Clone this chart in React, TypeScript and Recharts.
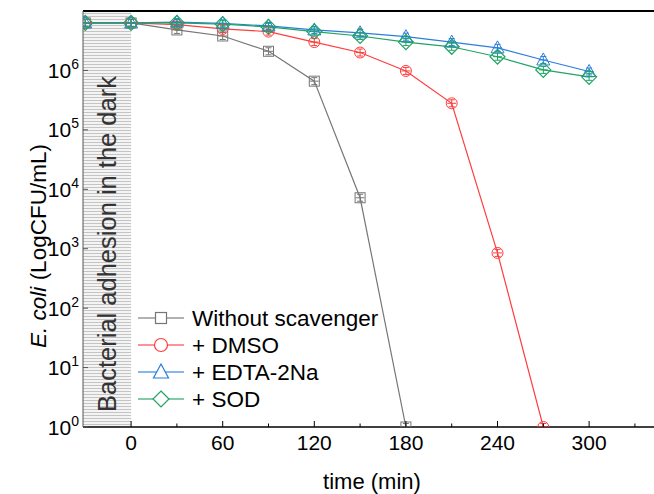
import React from 'react';
import { LineChart, Line, XAxis, YAxis, ReferenceArea, ReferenceLine, Legend } from 'recharts';

const times = [-30, 0, 30, 60, 90, 120, 150, 180, 210, 240, 270, 300];
const withoutScavenger = [6.3e6, 6.3e6, 4.8e6, 3.8e6, 2.1e6, 6.6e5, 7.2e3, 1, null, null, null, null];
const dmso = [6.3e6, 6.3e6, 5.9e6, 5.0e6, 4.5e6, 3.0e6, 2.0e6, 9.8e5, 2.8e5, 850, 1, null];
const edta = [6.3e6, 6.3e6, 6.5e6, 6.2e6, 5.6e6, 4.8e6, 4.3e6, 3.7e6, 3.0e6, 2.4e6, 1.5e6, 9.6e5];
const sod = [6.3e6, 6.3e6, 6.3e6, 6.0e6, 5.4e6, 4.5e6, 3.8e6, 3.0e6, 2.5e6, 1.7e6, 1.02e6, 7.8e5];

const xTicks = [0, 30, 60, 90, 120, 150, 180, 210, 240, 270, 300, 330];
const xLabels = [0, 60, 120, 180, 240, 300];
const yTicks = [1, 10, 100, 1000, 10000, 100000, 1000000];
const yExponents = ['0', '1', '2', '3', '4', '5', '6'];

const seriesNames = ['Without scavenger', '+ DMSO', '+ EDTA-2Na', '+ SOD'];
const seriesKeys = ['ws', 'dmso', 'edta', 'sod'];
const seriesColors = ['#767676', '#ff3d3d', '#2b7de0', '#1fa463'];
const seriesShapes = ['square', 'circle', 'triangle', 'diamond'];

const data = times.map((t, i) => ({
  t,
  ws: withoutScavenger[i],
  dmso: dmso[i],
  edta: edta[i],
  sod: sod[i],
}));

const FONT = 'Arial, "Liberation Sans", Helvetica, sans-serif';

function shapeOutline(shape: string, cx: number, cy: number, color: string) {
  if (shape === 'square') {
    return <rect x={cx - 5} y={cy - 5} width={10} height={10} fill="none" stroke={color} strokeWidth={1} />;
  }
  if (shape === 'circle') {
    return <circle cx={cx} cy={cy} r={5.5} fill="none" stroke={color} strokeWidth={1} />;
  }
  if (shape === 'triangle') {
    return (
      <polygon points={`${cx},${cy - 7} ${cx + 6.5},${cy + 5} ${cx - 6.5},${cy + 5}`} fill="none" stroke={color} strokeWidth={1} />
    );
  }
  return (
    <polygon points={`${cx},${cy - 7.5} ${cx + 7.5},${cy} ${cx},${cy + 7.5} ${cx - 7.5},${cy}`} fill="none" stroke={color} strokeWidth={1.2} />
  );
}

function makeDot(shape: string, color: string) {
  return (props: any) => {
    const { cx, cy, index } = props;
    if (cx == null || cy == null || props.value == null) return <g key={index} />;
    const hw = 4.5;
    return (
      <g key={index}>
        {shapeOutline(shape, cx, cy, color)}
        <line x1={cx - hw} x2={cx + hw} y1={cy} y2={cy} stroke={color} strokeWidth={1} />
        <line x1={cx} x2={cx} y1={cy - 3.5} y2={cy + 3.5} stroke={color} strokeWidth={1} />
        <line x1={cx - 3} x2={cx + 3} y1={cy - 3.5} y2={cy - 3.5} stroke={color} strokeWidth={1} />
        <line x1={cx - 3} x2={cx + 3} y1={cy + 3.5} y2={cy + 3.5} stroke={color} strokeWidth={1} />
      </g>
    );
  };
}

const XTick = (props: any) => {
  const { x, y, payload } = props;
  const v = payload.value;
  const major = xLabels.includes(v);
  return (
    <g>
      <line x1={x} x2={x} y1={y} y2={y - (major ? 6 : 3.5)} stroke="#000" strokeWidth={1} />
      {major && (
        <text x={x} y={y + 23} textAnchor="middle" fontSize={21} fontFamily={FONT} fill="#000">
          {v}
        </text>
      )}
    </g>
  );
};

const YTick = (props: any) => {
  const { x, y, payload } = props;
  const idx = yTicks.indexOf(payload.value);
  return (
    <g>
      <line x1={x} x2={x + 5} y1={y} y2={y} stroke="#555" strokeWidth={1} />
      <text x={79} y={y + 7.5} textAnchor="end" fontSize={21} fontFamily={FONT} fill="#000">
        <tspan>10</tspan>
        <tspan dy={-9} fontSize={14}>{yExponents[idx]}</tspan>
      </text>
    </g>
  );
};

const HatchShape = (props: any) => {
  const { x, y, width, height } = props;
  const cx = x + width / 2;
  const cy = 244;
  return (
    <g>
      <defs>
        <pattern id="hatchPat" patternUnits="userSpaceOnUse" width={6} height={3}>
          <rect x={0} y={0} width={6} height={3} fill="#f4f4f4" />
          <line x1={0} x2={6} y1={1.5} y2={1.5} stroke="#c4c4c4" strokeWidth={1} />
        </pattern>
      </defs>
      <rect x={x} y={y} width={width} height={height} fill="url(#hatchPat)" />
      <text
        x={cx}
        y={cy}
        transform={`rotate(-90 ${cx} ${cy})`}
        textAnchor="middle"
        dominantBaseline="central"
        fontSize={25.5}
        fontFamily={FONT}
        fill="#333"
      >
        Bacterial adhesion in the dark
      </text>
    </g>
  );
};

const LegendContent = () => {
  const rowsY = [318, 345, 372, 399];
  return (
    <svg width={654} height={494} style={{ position: 'absolute', left: 0, top: 0, pointerEvents: 'none' }}>
      {seriesNames.map((name, i) => {
        const c = seriesColors[i];
        const cx = 161;
        const cy = rowsY[i];
        const s = seriesShapes[i];
        let marker;
        if (s === 'square') marker = <rect x={cx - 5.5} y={cy - 5.5} width={11} height={11} fill="#fff" stroke={c} strokeWidth={1.2} />;
        else if (s === 'circle') marker = <circle cx={cx} cy={cy} r={6.5} fill="#fff" stroke={c} strokeWidth={1.2} />;
        else if (s === 'triangle') marker = <polygon points={`${cx},${cy - 8} ${cx + 7.5},${cy + 6} ${cx - 7.5},${cy + 6}`} fill="#fff" stroke={c} strokeWidth={1.2} />;
        else marker = <polygon points={`${cx},${cy - 8} ${cx + 8},${cy} ${cx},${cy + 8} ${cx - 8},${cy}`} fill="#fff" stroke={c} strokeWidth={1.2} />;
        return (
          <g key={name}>
            <line x1={138} x2={184} y1={cy} y2={cy} stroke={c} strokeOpacity={0.75} strokeWidth={1.3} />
            {marker}
            <text x={192} y={cy + 8} fontSize={22.5} fontFamily={FONT} fill="#000">
              {name}
            </text>
          </g>
        );
      })}
    </svg>
  );
};

export default function App() {
  return (
    <div style={{ position: 'absolute', left: 0, top: 0, width: 654, height: 494, background: '#fff' }}>
      <LineChart width={654} height={494} data={data} margin={{ top: 11, right: 0, bottom: 0, left: 0 }}>
        <XAxis
          dataKey="t"
          type="number"
          domain={[-31.5, 342.5]}
          allowDataOverflow
          ticks={xTicks}
          interval={0}
          height={67}
          tickSize={0}
          tickMargin={0}
          tickLine={false}
          tick={<XTick />}
          axisLine={{ stroke: '#000', strokeWidth: 1.5 }}
          label={{
            content: () => (
              <text x={372} y={489} textAnchor="middle" fontSize={22} fontFamily={FONT} fill="#000">
                time (min)
              </text>
            ),
          }}
        />
        <YAxis
          type="number"
          scale="log"
          domain={[1, 1e7]}
          allowDataOverflow
          ticks={yTicks}
          interval={0}
          width={83}
          tickSize={0}
          tickMargin={0}
          tickLine={false}
          tick={<YTick />}
          axisLine={{ stroke: '#555', strokeWidth: 1 }}
          label={{
            content: () => (
              <text
                x={38}
                y={246}
                transform="rotate(-90 38 246)"
                textAnchor="middle"
                dominantBaseline="central"
                fontSize={22.5}
                fontFamily={FONT}
                fill="#000"
              >
                <tspan fontStyle="italic">E. coli</tspan>
                <tspan> (LogCFU/mL)</tspan>
              </text>
            ),
          }}
        />
        <ReferenceArea x1={-31.5} x2={0} y1={1} y2={1e7} shape={<HatchShape />} ifOverflow="visible" />
        <ReferenceLine y={1e7} stroke="#000" strokeWidth={2} />
        {seriesKeys.map((k, i) => (
          <Line
            key={k}
            dataKey={k}
            name={seriesNames[i]}
            stroke={seriesColors[i]}
            strokeWidth={1.2}
            dot={makeDot(seriesShapes[i], seriesColors[i])}
            activeDot={false}
            isAnimationActive={false}
          />
        ))}
        <Legend
          layout="vertical"
          align="center"
          verticalAlign="middle"
          content={<LegendContent />}
          wrapperStyle={{ position: 'absolute', left: 0, top: 0, width: 654, height: 494, pointerEvents: 'none' }}
        />
      </LineChart>
    </div>
  );
}
